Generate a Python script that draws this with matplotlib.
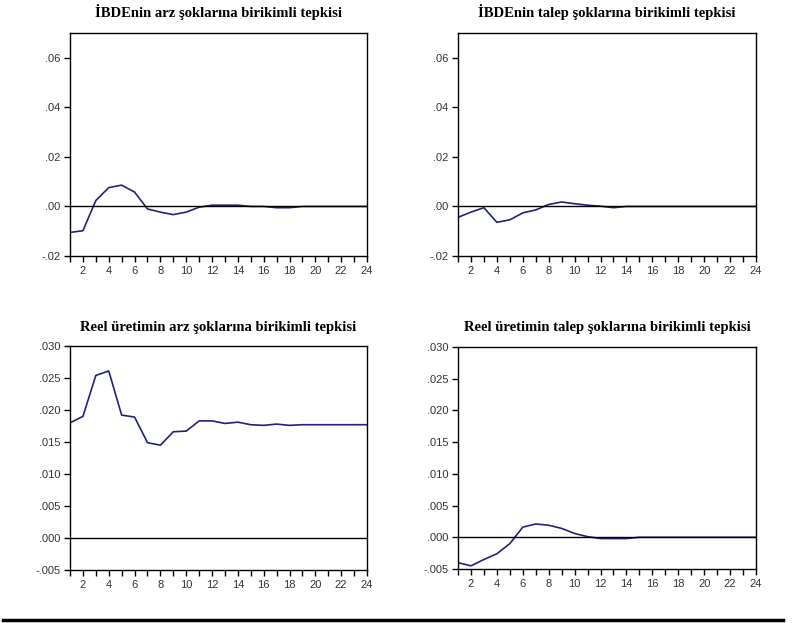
import matplotlib
matplotlib.use("Agg")
import matplotlib.pyplot as plt
from matplotlib.ticker import FuncFormatter
from matplotlib.lines import Line2D

periods = list(range(1, 25))

ibde_arz = [-0.0105, -0.0098, 0.0024, 0.0076, 0.0086, 0.0058, -0.0010, -0.0023,
            -0.0033, -0.0023, -0.0003, 0.0005, 0.0005, 0.0005, 0.0, 0.0,
            -0.0005, -0.0005, 0.0, 0.0, 0.0, 0.0, 0.0, 0.0]
ibde_talep = [-0.0044, -0.0023, -0.0005, -0.0064, -0.0054, -0.0026, -0.0014, 0.0008,
              0.0018, 0.0011, 0.0005, 0.0001, -0.0005, 0.0, 0.0, 0.0,
              0.0, 0.0, 0.0, 0.0, 0.0, 0.0, 0.0, 0.0]
reel_arz = [0.0180, 0.0190, 0.0254, 0.0261, 0.0192, 0.0189, 0.0149, 0.0145,
            0.0166, 0.0167, 0.0183, 0.0183, 0.0179, 0.0181, 0.0177, 0.0176,
            0.0178, 0.0176, 0.0177, 0.0177, 0.0177, 0.0177, 0.0177, 0.0177]
reel_talep = [-0.0040, -0.0045, -0.0035, -0.0026, -0.0010, 0.0016, 0.0021, 0.0019,
              0.0014, 0.0006, 0.0001, -0.0002, -0.0002, -0.0002, 0.0, 0.0,
              0.0, 0.0, 0.0, 0.0, 0.0, 0.0, 0.0, 0.0]

titles = ["İBDEnin arz şoklarına birikimli tepkisi",
          "İBDEnin talep şoklarına birikimli tepkisi",
          "Reel üretimin arz şoklarına birikimli tepkisi",
          "Reel üretimin talep şoklarına birikimli tepkisi"]

top_yticks = [-0.02, 0.00, 0.02, 0.04, 0.06]
bot_yticks = [-0.005, 0.000, 0.005, 0.010, 0.015, 0.020, 0.025, 0.030]

W, H = 793, 623
fig = plt.figure(figsize=(W / 100, H / 100), dpi=100)
fig.patch.set_facecolor("white")

def box(l, t, r, b):
    return [l / W, 1 - b / H, (r - l) / W, (b - t) / H]

panels = [
    (box(70, 33, 367, 256), ibde_arz, titles[0], top_yticks, (-0.02, 0.07), 2, 12),
    (box(458, 33, 756, 256), ibde_talep, titles[1], top_yticks, (-0.02, 0.07), 2, 12),
    (box(70, 346, 367, 570), reel_arz, titles[2], bot_yticks, (-0.005, 0.030), 3, 327),
    (box(458, 347, 756, 569), reel_talep, titles[3], bot_yticks, (-0.005, 0.030), 3, 327),
]

def make_fmt(nd):
    def f(v, pos):
        s = f"{v:.{nd}f}"
        if s.startswith("-0"):
            s = "-" + s[2:]
        elif s.startswith("0"):
            s = s[1:]
        return s
    return FuncFormatter(f)

for rect, data, title, yt, ylim, nd, ty in panels:
    ax = fig.add_axes(rect)
    ax.plot(periods, data, color="#22227a", lw=1.2)
    ax.axhline(0, color="black", lw=1.0)
    ax.set_xlim(1, 24)
    ax.set_ylim(*ylim)
    ax.set_yticks(yt)
    ax.yaxis.set_major_formatter(make_fmt(nd))
    ax.set_xticks(periods)
    ax.set_xticklabels([str(p) if p % 2 == 0 else "" for p in periods])
    ax.tick_params(direction="out", length=4, width=1, labelsize=8, pad=3, colors="black")
    for lab in ax.get_xticklabels() + ax.get_yticklabels():
        lab.set_fontfamily("Liberation Sans")
        lab.set_color("#333333")
    for s in ax.spines.values():
        s.set_linewidth(1.0)
    cx = rect[0] + rect[2] / 2
    fig.text(cx, 1 - ty / H, title, ha="center", va="center",
             fontfamily="Liberation Serif", fontweight="bold", fontsize=10.5)

fig.add_artist(Line2D([3 / W, 783 / W], [1 - 620 / H, 1 - 620 / H],
                      color="black", lw=2.5, transform=fig.transFigure))

fig.savefig("out.png", dpi=100, facecolor="white")
